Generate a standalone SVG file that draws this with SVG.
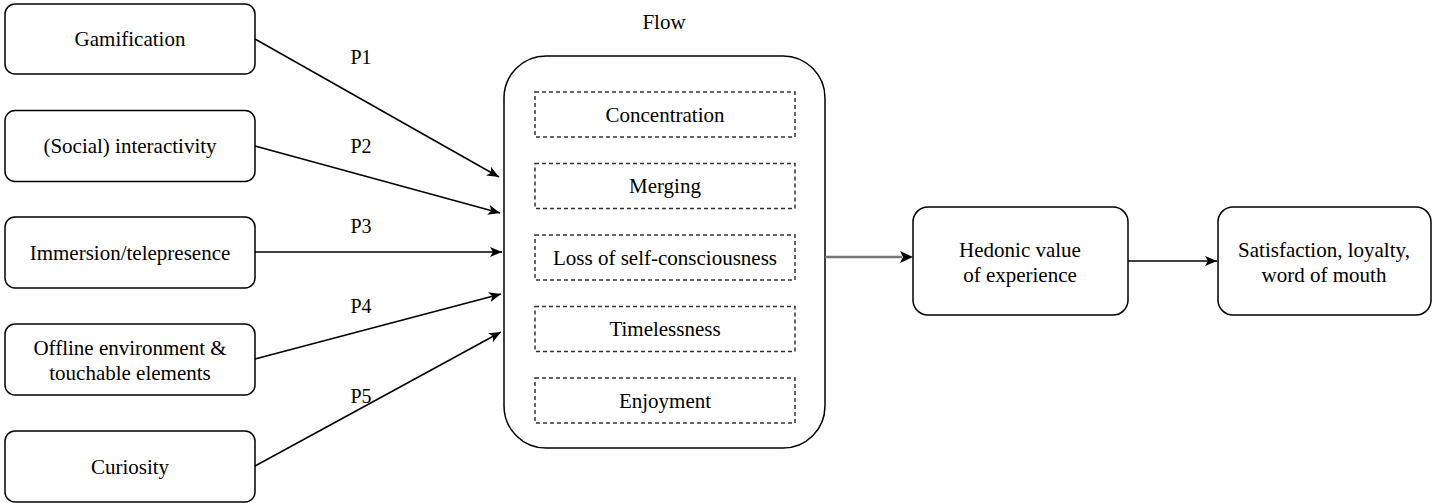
<svg xmlns="http://www.w3.org/2000/svg" width="1433" height="503" viewBox="0 0 1433 503">
  <style>
    .box { fill: #ffffff; stroke: #000000; stroke-width: 1.5; }
    .item { fill: #ffffff; stroke: #333333; stroke-width: 1.5; stroke-dasharray: 4 3; }
    .lbl { font-family: "Liberation Serif", "Times New Roman", serif; font-size: 21px; fill: #000000; text-anchor: middle; }
    .plbl { font-family: "Liberation Serif", "Times New Roman", serif; font-size: 20px; fill: #000000; text-anchor: middle; }
    .edge { fill: none; stroke: #000000; stroke-width: 1.5; }
    .edge-grey { fill: none; stroke: #777777; stroke-width: 2.5; }
  </style>
  <defs>
    <marker id="arrow" markerUnits="userSpaceOnUse" markerWidth="14" markerHeight="12" refX="12" refY="5" orient="auto">
      <path d="M0,0 L12,5 L0,10 L3,5 Z" fill="#000000"/>
    </marker>
  </defs>

  <rect width="1433" height="503" fill="#ffffff"/>

  <!-- antecedents -->
  <g id="gamification">
    <rect class="box" x="5" y="4" width="250" height="70" rx="10"/>
    <text class="lbl" x="130" y="46">Gamification</text>
  </g>
  <g id="interactivity">
    <rect class="box" x="5" y="110.5" width="250" height="71" rx="10"/>
    <text class="lbl" x="130" y="153">(Social) interactivity</text>
  </g>
  <g id="immersion">
    <rect class="box" x="5" y="217" width="250" height="71" rx="10"/>
    <text class="lbl" x="130" y="260">Immersion/telepresence</text>
  </g>
  <g id="offline">
    <rect class="box" x="5" y="324" width="250" height="71" rx="10"/>
    <text class="lbl" x="130" y="355">Offline environment &amp;</text>
    <text class="lbl" x="130" y="380">touchable elements</text>
  </g>
  <g id="curiosity">
    <rect class="box" x="5" y="431" width="250" height="71" rx="10"/>
    <text class="lbl" x="130" y="474">Curiosity</text>
  </g>

  <!-- flow construct with its dimensions -->
  <g id="flow">
    <text class="lbl" x="664" y="29">Flow</text>
    <rect class="box" x="504" y="56" width="321" height="392" rx="42"/>
    <g id="concentration">
      <rect class="item" x="535" y="92" width="260" height="45"/>
      <text class="lbl" x="665" y="122">Concentration</text>
    </g>
    <g id="merging">
      <rect class="item" x="535" y="163.5" width="260" height="45"/>
      <text class="lbl" x="665" y="193">Merging</text>
    </g>
    <g id="loss">
      <rect class="item" x="535" y="235" width="260" height="45"/>
      <text class="lbl" x="665" y="265">Loss of self-consciousness</text>
    </g>
    <g id="timelessness">
      <rect class="item" x="535" y="306.5" width="260" height="45"/>
      <text class="lbl" x="665" y="336">Timelessness</text>
    </g>
    <g id="enjoyment">
      <rect class="item" x="535" y="378" width="260" height="45"/>
      <text class="lbl" x="665" y="408">Enjoyment</text>
    </g>
  </g>

  <!-- outcomes -->
  <g id="hedonic">
    <rect class="box" x="913" y="207" width="215" height="108" rx="15"/>
    <text class="lbl" x="1020" y="257">Hedonic value</text>
    <text class="lbl" x="1020" y="282">of experience</text>
  </g>
  <g id="satisfaction">
    <rect class="box" x="1218" y="207" width="213" height="108" rx="15"/>
    <text class="lbl" x="1324" y="257">Satisfaction, loyalty,</text>
    <text class="lbl" x="1324" y="282">word of mouth</text>
  </g>

  <!-- connectors -->
  <g id="connectors">
    <line class="edge" x1="255" y1="39" x2="499" y2="177" marker-end="url(#arrow)"/>
    <line class="edge" x1="255" y1="146" x2="500" y2="213" marker-end="url(#arrow)"/>
    <line class="edge" x1="255" y1="252" x2="502" y2="252" marker-end="url(#arrow)"/>
    <line class="edge" x1="255" y1="359" x2="501" y2="294" marker-end="url(#arrow)"/>
    <line class="edge" x1="255" y1="466" x2="501" y2="332" marker-end="url(#arrow)"/>
    <line class="edge-grey" x1="825" y1="257" x2="902" y2="257"/>
    <path d="M900,251 L913,257 L900,263 L903,257 Z" fill="#000000"/>
    <line class="edge" x1="1128" y1="261" x2="1217" y2="261" marker-end="url(#arrow)"/>
    <text class="plbl" x="361" y="64">P1</text>
    <text class="plbl" x="361" y="153">P2</text>
    <text class="plbl" x="361" y="233">P3</text>
    <text class="plbl" x="361" y="313">P4</text>
    <text class="plbl" x="361" y="403">P5</text>
  </g>
</svg>
